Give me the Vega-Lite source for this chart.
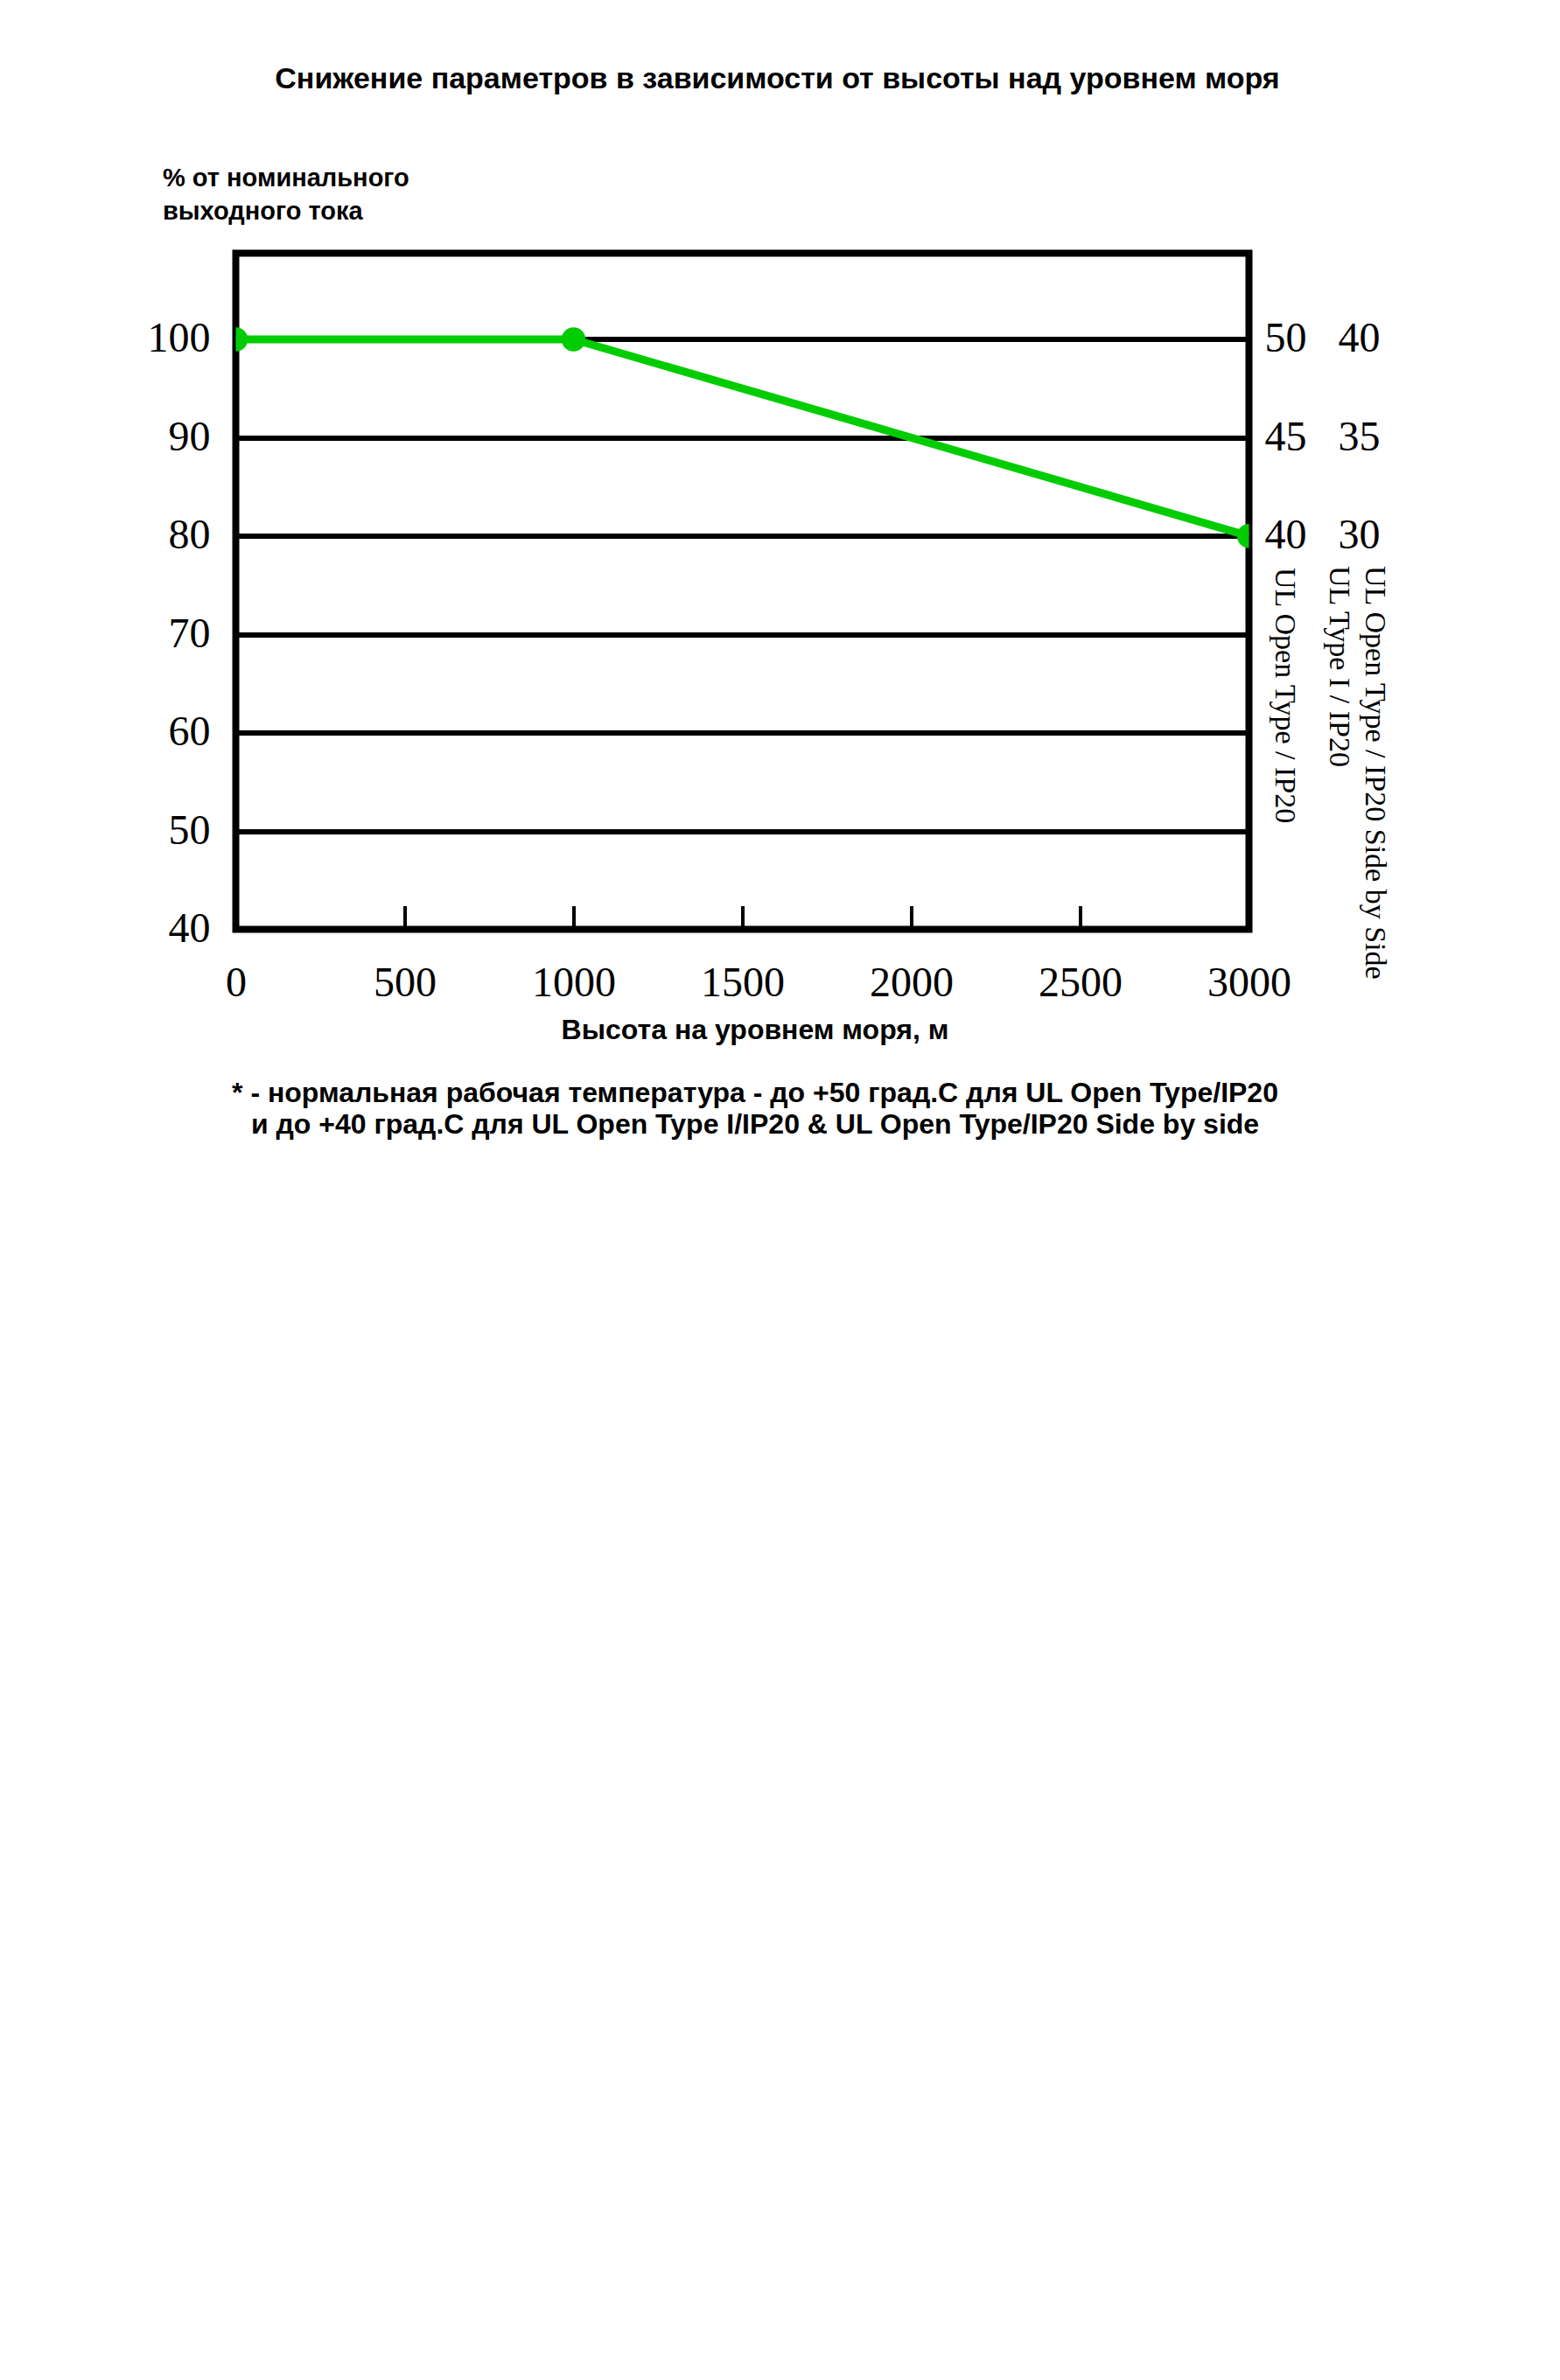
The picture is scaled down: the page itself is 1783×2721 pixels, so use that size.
{
  "$schema": "https://vega.github.io/schema/vega-lite/v6.json",
  "autosize": {"type": "none"},
  "padding": {"left": 269.5, "top": 289.5, "right": 355.5, "bottom": 1658.5},
  "width": 1158,
  "height": 773,
  "background": "white",
  "title": {
    "text": "Снижение параметров в зависимости от высоты над уровнем моря",
    "font": "Liberation Sans",
    "fontSize": 34,
    "fontWeight": "bold",
    "color": "black",
    "anchor": "middle",
    "offset": 82,
    "dx": 40
  },
  "data": {
    "values": [
      {"altitude": 0, "current": 100},
      {"altitude": 1000, "current": 100},
      {"altitude": 3000, "current": 80}
    ]
  },
  "layer": [
    {
      "mark": {"type": "line", "color": "#00cc00", "strokeWidth": 9, "clip": true},
      "encoding": {
        "x": {
          "field": "altitude",
          "type": "quantitative",
          "scale": {"domain": [0, 3000], "nice": false, "zero": false},
          "axis": {
            "orient": "bottom",
            "values": [0, 500, 1000, 1500, 2000, 2500, 3000],
            "format": "d",
            "domain": false,
            "grid": false,
            "ticks": false,
            "tickSize": 0,
            "labelFont": "Liberation Serif",
            "labelFontSize": 48,
            "labelColor": "black",
            "labelBaseline": "alphabetic",
            "labelPadding": 75.5,
            "labelFlush": false,
            "labelOverlap": false,
            "title": [
              "Высота на уровнем моря, м",
              "\u200b",
              "* - нормальная рабочая температура - до +50 град.С для UL Open Type/IP20",
              "и до +40 град.С для UL Open Type I/IP20 & UL Open Type/IP20 Side by side"
            ],
            "titleFont": "Liberation Sans",
            "titleFontSize": 32,
            "titleFontWeight": "bold",
            "titleColor": "black",
            "titleLineHeight": 36,
            "titleBaseline": "alphabetic",
            "titleAlign": "center",
            "titleX": 593,
            "titleY": 124.5
          }
        },
        "y": {
          "field": "current",
          "type": "quantitative",
          "scale": {"domain": [40, 108.76], "nice": false, "zero": false},
          "axis": {
            "orient": "left",
            "values": [40, 50, 60, 70, 80, 90, 100],
            "domain": false,
            "ticks": false,
            "tickSize": 0,
            "grid": true,
            "gridColor": "black",
            "gridWidth": 6,
            "gridOpacity": 1,
            "labelFont": "Liberation Serif",
            "labelFontSize": 48,
            "labelColor": "black",
            "labelPadding": 29.5,
            "labelFlush": false,
            "labelOverlap": false,
            "title": ["% от номинального", "выходного тока"],
            "titleFont": "Liberation Sans",
            "titleFontSize": 29,
            "titleFontWeight": "bold",
            "titleColor": "black",
            "titleAngle": 0,
            "titleAlign": "left",
            "titleBaseline": "alphabetic",
            "titleLineHeight": 38,
            "titleX": -84,
            "titleY": -77
          }
        }
      }
    },
    {
      "mark": {"type": "circle", "color": "#00cc00", "size": 755, "opacity": 1, "clip": true},
      "encoding": {
        "x": {
          "field": "altitude",
          "type": "quantitative",
          "scale": {"domain": [0, 3000], "nice": false, "zero": false},
          "axis": {
            "orient": "bottom",
            "values": [500, 1000, 1500, 2000, 2500],
            "domain": false,
            "grid": false,
            "labels": false,
            "ticks": true,
            "tickSize": -27,
            "tickWidth": 4,
            "tickColor": "black",
            "title": "UL Open Type / IP20",
            "titleFont": "Liberation Serif",
            "titleFontSize": 34,
            "titleFontWeight": "normal",
            "titleColor": "black",
            "titleAngle": 90,
            "titleAlign": "left",
            "titleBaseline": "middle",
            "titleX": 1197.5,
            "titleY": -414
          }
        },
        "y": {
          "field": "current",
          "type": "quantitative",
          "scale": {"domain": [40, 108.76], "nice": false, "zero": false},
          "axis": {
            "orient": "right",
            "values": [80, 90, 100],
            "labelExpr": "format(datum.value / 2, 'd') + '\u00a0\u00a0\u00a0' + format(datum.value / 2 - 10, 'd')",
            "domain": false,
            "ticks": false,
            "tickSize": 0,
            "grid": false,
            "labelFont": "Liberation Serif",
            "labelFontSize": 48,
            "labelColor": "black",
            "labelAlign": "left",
            "labelPadding": 17.5,
            "labelFlush": false,
            "labelOverlap": false,
            "title": ["UL Open Type / IP20 Side by Side", "UL Type I / IP20"],
            "titleFont": "Liberation Serif",
            "titleFontSize": 34,
            "titleFontWeight": "normal",
            "titleColor": "black",
            "titleAngle": 90,
            "titleAlign": "left",
            "titleBaseline": "middle",
            "titleLineHeight": 41,
            "titleX": 143,
            "titleY": 357
          }
        }
      }
    }
  ],
  "resolve": {"axis": {"x": "independent", "y": "independent"}},
  "config": {
    "view": {"stroke": "black", "strokeWidth": 8, "fill": "white"}
  }
}
